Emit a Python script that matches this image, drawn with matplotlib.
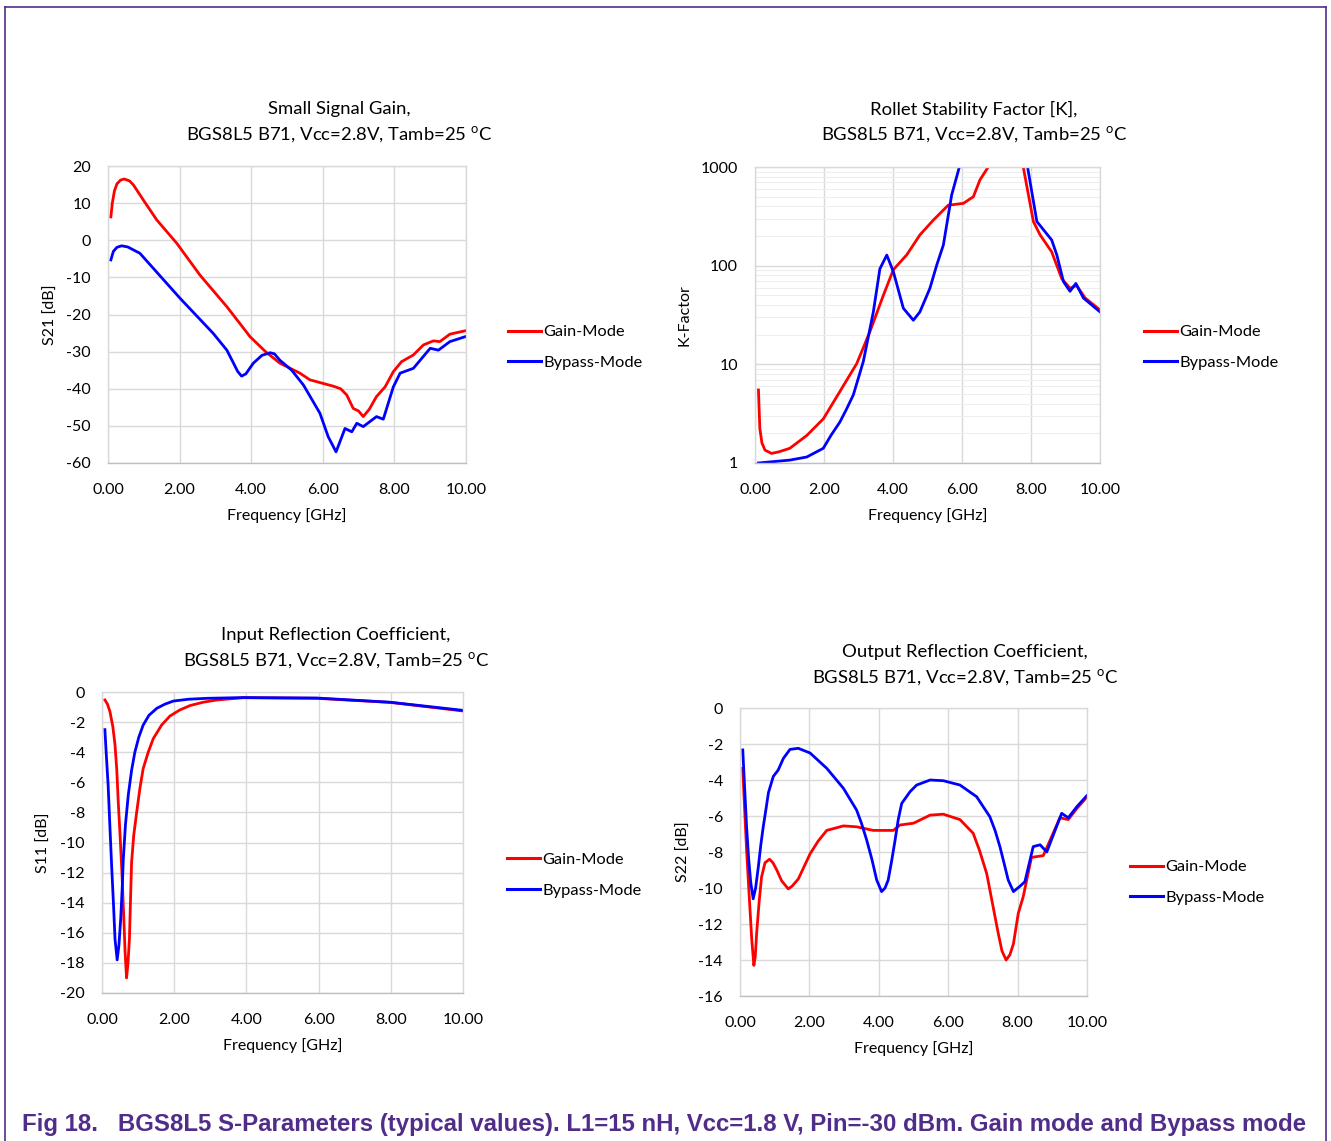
import matplotlib
matplotlib.use("Agg")
import matplotlib.pyplot as plt
from matplotlib.lines import Line2D
from matplotlib.ticker import FixedLocator, LogLocator, NullFormatter

# ---------------- data ----------------
# Small signal gain S21 [dB]
s21_gain_f = [0.08, 0.12, 0.18, 0.25, 0.35, 0.45, 0.6, 0.71, 0.99, 1.36, 1.92, 2.57, 3.32, 3.97, 4.4, 4.8, 5.36, 5.64, 6.29, 6.5, 6.67, 6.85, 7.0, 7.13, 7.3, 7.5, 7.74, 7.97, 8.2, 8.53, 8.81, 9.09, 9.27, 9.55, 9.97]
s21_gain_v = [6.3, 10.0, 13.3, 15.2, 16.2, 16.5, 16.0, 14.9, 10.8, 5.5, -0.8, -9.4, -17.9, -26.0, -30.0, -33.1, -35.8, -37.6, -39.3, -40.0, -41.7, -45.3, -46.0, -47.5, -45.5, -42.1, -39.5, -35.4, -32.7, -30.9, -28.2, -27.1, -27.3, -25.3, -24.4]
s21_byp_f = [0.08, 0.15, 0.25, 0.38, 0.55, 0.89, 2.01, 2.94, 3.32, 3.5, 3.62, 3.73, 3.85, 4.06, 4.3, 4.53, 4.65, 4.8, 5.13, 5.46, 5.92, 6.15, 6.37, 6.62, 6.81, 6.95, 7.13, 7.5, 7.69, 7.97, 8.16, 8.53, 9.0, 9.23, 9.55, 9.97]
s21_byp_v = [-5.3, -3.0, -1.9, -1.5, -1.8, -3.5, -15.6, -25.1, -29.6, -33.0, -35.3, -36.6, -36.0, -33.1, -31.0, -30.3, -30.6, -32.3, -35.0, -39.0, -46.6, -52.9, -57.0, -50.7, -51.6, -49.3, -50.2, -47.5, -48.2, -39.5, -35.8, -34.5, -29.1, -29.6, -27.3, -26.0]

# Rollet stability factor K
k_gain_f = [0.1, 0.12, 0.14, 0.2, 0.29, 0.48, 0.7, 1.01, 1.5, 1.98, 2.46, 2.95, 3.33, 3.72, 4.01, 4.4, 4.78, 5.17, 5.6, 6.04, 6.33, 6.52, 6.76, 7.0, 7.3, 7.6, 7.78, 8.07, 8.26, 8.6, 8.89, 9.13, 9.32, 9.57, 10.0]
k_gain_v = [5.5, 3.5, 2.24, 1.6, 1.35, 1.25, 1.3, 1.41, 1.9, 2.8, 5.3, 10.2, 21.4, 50, 91, 129, 205, 290, 410, 428, 500, 740, 1000, 1500, 2500, 1400, 980, 280, 206, 138, 74, 59, 63, 47, 35.6]
k_byp_f = [0.1, 1.01, 1.5, 1.98, 2.2, 2.46, 2.65, 2.85, 3.14, 3.43, 3.62, 3.82, 4.01, 4.3, 4.59, 4.78, 5.07, 5.27, 5.46, 5.7, 5.94, 6.2, 6.8, 7.4, 7.7, 7.9, 8.17, 8.6, 8.75, 8.94, 9.13, 9.3, 9.52, 10.0]
k_byp_v = [1.0, 1.07, 1.15, 1.41, 1.9, 2.6, 3.5, 4.9, 10.7, 34, 93, 128, 87, 37, 28, 34, 59, 102, 162, 520, 1050, 2000, 5000, 4000, 2000, 1000, 280, 182, 128, 69, 55, 66, 47, 34]

# Input reflection coefficient S11 [dB]
s11_gain_f = [0.08, 0.15, 0.22, 0.3, 0.36, 0.41, 0.45, 0.5, 0.55, 0.6, 0.64, 0.68, 0.72, 0.76, 0.79, 0.82, 0.88, 0.96, 1.05, 1.14, 1.28, 1.42, 1.65, 1.88, 2.15, 2.44, 2.8, 3.18, 3.91, 5.95, 7.98, 10.0]
s11_gain_v = [-0.53, -0.8, -1.3, -2.3, -3.5, -5.2, -7.3, -9.5, -11.9, -14.8, -17.3, -19.0, -18.0, -16.4, -13.8, -11.3, -9.5, -8.0, -6.4, -5.1, -4.0, -3.1, -2.2, -1.6, -1.2, -0.9, -0.68, -0.53, -0.38, -0.42, -0.69, -1.26]
s11_byp_f = [0.08, 0.12, 0.17, 0.22, 0.27, 0.32, 0.36, 0.42, 0.47, 0.52, 0.56, 0.59, 0.65, 0.73, 0.82, 0.91, 1.02, 1.14, 1.3, 1.52, 1.75, 1.98, 2.4, 2.9, 3.91, 5.95, 7.98, 10.0]
s11_byp_v = [-2.5, -4.2, -6.2, -9.0, -11.7, -14.2, -16.4, -17.8, -16.8, -15.0, -13.0, -11.1, -8.8, -6.8, -5.2, -4.0, -3.0, -2.2, -1.55, -1.08, -0.8, -0.6, -0.48, -0.42, -0.37, -0.40, -0.68, -1.22]

# Output reflection coefficient S22 [dB]
s22_gain_f = [0.08, 0.13, 0.19, 0.27, 0.34, 0.40, 0.44, 0.48, 0.55, 0.62, 0.72, 0.85, 0.95, 1.06, 1.2, 1.39, 1.5, 1.68, 1.85, 2.02, 2.25, 2.5, 2.98, 3.36, 3.84, 4.42, 4.61, 5.0, 5.48, 5.86, 6.34, 6.72, 6.9, 7.11, 7.25, 7.44, 7.55, 7.67, 7.78, 7.88, 8.02, 8.16, 8.4, 8.74, 8.98, 9.22, 9.46, 9.7, 9.99]
s22_gain_v = [-3.35, -5.5, -7.9, -10.6, -12.9, -14.3, -13.8, -12.5, -10.8, -9.4, -8.6, -8.4, -8.6, -9.0, -9.6, -10.05, -9.9, -9.5, -8.8, -8.1, -7.4, -6.8, -6.55, -6.6, -6.8, -6.8, -6.5, -6.4, -5.95, -5.9, -6.2, -6.96, -7.9, -9.2, -10.6, -12.5, -13.5, -14.0, -13.7, -13.1, -11.4, -10.5, -8.3, -8.2, -7.15, -6.1, -6.2, -5.6, -4.96]
s22_byp_f = [0.08, 0.13, 0.19, 0.25, 0.31, 0.38, 0.45, 0.53, 0.6, 0.67, 0.75, 0.82, 0.96, 1.1, 1.25, 1.44, 1.68, 2.02, 2.5, 2.98, 3.36, 3.5, 3.65, 3.8, 3.94, 4.08, 4.18, 4.27, 4.37, 4.47, 4.56, 4.66, 4.9, 5.09, 5.48, 5.86, 6.34, 6.82, 7.2, 7.35, 7.49, 7.62, 7.73, 7.88, 8.07, 8.21, 8.45, 8.65, 8.84, 9.08, 9.27, 9.46, 9.7, 9.99]
s22_byp_v = [-2.33, -4.3, -6.6, -8.4, -9.7, -10.6, -10.0, -8.8, -7.6, -6.6, -5.6, -4.7, -3.8, -3.45, -2.8, -2.3, -2.24, -2.5, -3.35, -4.46, -5.67, -6.4, -7.33, -8.4, -9.56, -10.2, -10.0, -9.56, -8.5, -7.33, -6.2, -5.3, -4.65, -4.28, -4.0, -4.04, -4.28, -4.93, -6.04, -6.8, -7.7, -8.7, -9.56, -10.2, -9.9, -9.65, -7.7, -7.6, -8.0, -6.8, -5.85, -6.1, -5.5, -4.88]

x_ticks = [0, 2, 4, 6, 8, 10]
x_ticklabels = ["0.00", "2.00", "4.00", "6.00", "8.00", "10.00"]
series_labels = ["Gain-Mode", "Bypass-Mode"]
series_colors = ["#FF0000", "#0000FF"]

titles = [
    "Small Signal Gain,\nBGS8L5 B71, Vcc=2.8V, Tamb=25 $^{\\mathrm{o}}$C",
    "Rollet Stability Factor [K],\nBGS8L5 B71, Vcc=2.8V, Tamb=25 $^{\\mathrm{o}}$C",
    "Input Reflection Coefficient,\nBGS8L5 B71, Vcc=2.8V, Tamb=25 $^{\\mathrm{o}}$C",
    "Output Reflection Coefficient,\nBGS8L5 B71, Vcc=2.8V, Tamb=25 $^{\\mathrm{o}}$C",
]
caption = "Fig 18.   BGS8L5 S-Parameters (typical values). L1=15 nH, Vcc=1.8 V, Pin=-30 dBm. Gain mode and Bypass mode"

# ---------------- style ----------------
plt.rcParams['font.family'] = ['Lato', 'DejaVu Sans']
plt.rcParams['mathtext.fontset'] = 'custom'
plt.rcParams['mathtext.rm'] = 'Lato'
plt.rcParams['axes.unicode_minus'] = False
FS = 11.5
W, H = 1331, 1141
fig = plt.figure(figsize=(W / 100, H / 100), dpi=100)

def box(l, t, r, b):
    return [l / W, 1 - b / H, (r - l) / W, (b - t) / H]

def fx(x):
    return x / W

def fy(y):
    return 1 - y / H

def style_axes(ax):
    for s in ax.spines.values():
        s.set_color("#d9d9d9")
        s.set_linewidth(1.0)
    ax.spines['bottom'].set_color("#bfbfbf")
    ax.grid(True, which='major', color="#d9d9d9", linewidth=1.0)
    ax.set_axisbelow(True)
    ax.tick_params(which='both', length=0, labelsize=FS, colors="black")
    ax.tick_params(axis='x', pad=14.5)
    ax.tick_params(axis='y', pad=12.3)
    ax.set_xlim(0, 10)
    ax.set_xticks(x_ticks)
    ax.set_xticklabels(x_ticklabels)
    ax.set_xlabel("Frequency [GHz]", fontsize=FS, labelpad=8)

def add_legend(ax, x, y):
    handles = [Line2D([], [], color=c, lw=2.2) for c in series_colors]
    fig.legend(handles, series_labels, loc='center left', bbox_to_anchor=(fx(x), fy(y)),
               frameon=False, fontsize=11.8, handlelength=2.0, handletextpad=0.15,
               labelspacing=1.0, borderaxespad=0, borderpad=0)

LW = 2.0

# S21
ax1 = fig.add_axes(box(108, 166, 466, 463))
style_axes(ax1)
ax1.plot(s21_gain_f, s21_gain_v, color=series_colors[0], lw=LW)
ax1.plot(s21_byp_f, s21_byp_v, color=series_colors[1], lw=LW)
ax1.set_ylim(-60, 20)
ax1.set_yticks(range(-60, 21, 10))
ax1.set_ylabel("S21 [dB]", fontsize=FS)
ax1.yaxis.set_label_coords(-0.14, 0.5)
add_legend(ax1, 508, 347.5)

# K
ax2 = fig.add_axes(box(755, 167, 1100, 463))
style_axes(ax2)
ax2.set_yscale('log')
ax2.plot(k_gain_f, k_gain_v, color=series_colors[0], lw=LW)
ax2.plot(k_byp_f, k_byp_v, color=series_colors[1], lw=LW)
ax2.set_ylim(1, 1000)
ax2.yaxis.set_major_locator(FixedLocator([1, 10, 100, 1000]))
ax2.set_yticklabels(["1", "10", "100", "1000"])
ax2.yaxis.set_minor_locator(LogLocator(base=10, subs=range(2, 10)))
ax2.yaxis.set_minor_formatter(NullFormatter())
ax2.grid(True, which='minor', axis='y', color="#eeeeee", linewidth=0.8)
ax2.set_ylabel("K-Factor", fontsize=FS)
ax2.yaxis.set_label_coords(-0.183, 0.5)
add_legend(ax2, 1144, 347.5)

# S11
ax3 = fig.add_axes(box(102, 692, 463, 993))
style_axes(ax3)
ax3.plot(s11_gain_f, s11_gain_v, color=series_colors[0], lw=LW)
ax3.plot(s11_byp_f, s11_byp_v, color=series_colors[1], lw=LW)
ax3.set_ylim(-20, 0)
ax3.set_yticks(range(-20, 1, 2))
ax3.set_ylabel("S11 [dB]", fontsize=FS)
ax3.yaxis.set_label_coords(-0.141, 0.5)
add_legend(ax3, 507, 875)

# S22
ax4 = fig.add_axes(box(740, 708, 1087, 996))
style_axes(ax4)
ax4.plot(s22_gain_f, s22_gain_v, color=series_colors[0], lw=LW)
ax4.plot(s22_byp_f, s22_byp_v, color=series_colors[1], lw=LW)
ax4.set_ylim(-16, 0)
ax4.set_yticks(range(-16, 1, 2))
ax4.set_ylabel("S22 [dB]", fontsize=FS)
ax4.yaxis.set_label_coords(-0.141, 0.5)
add_legend(ax4, 1130, 882.5)

# titles
TFS = 13.3
for t, (x, y) in zip(titles, [(339, 123), (974, 123), (336, 649), (965, 666)]):
    fig.text(fx(x), fy(y), t, ha='center', va='center', fontsize=TFS, linespacing=1.45)

# frame and caption
purple = "#512D8A"
fig.add_artist(Line2D([fx(4.5), fx(4.5)], [fy(7), 0], color=purple, lw=1.2))
fig.add_artist(Line2D([fx(1325.5), fx(1325.5)], [fy(7), 0], color=purple, lw=1.2))
fig.add_artist(Line2D([fx(4.5), fx(1325.5)], [fy(7), fy(7)], color=purple, lw=1.2))
fig.text(fx(22), fy(1124), caption, ha='left', va='center', fontsize=17.3,
         fontweight='bold', color=purple, family=['Liberation Sans', 'DejaVu Sans'])

fig.savefig("out.png", dpi=100)
